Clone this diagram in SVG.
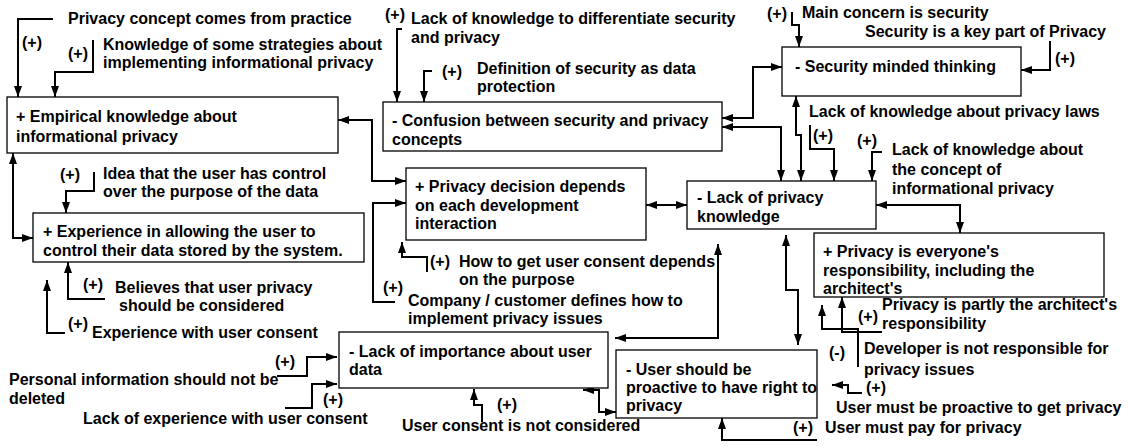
<svg xmlns="http://www.w3.org/2000/svg" width="1129" height="446" viewBox="0 0 1129 446">
<style>
.box{fill:#fff;stroke:#000;stroke-width:1.3}
text{font-family:"Liberation Sans",Arial,sans-serif;font-weight:bold;font-size:16px;fill:#000}
.c{fill:none;stroke:#000;stroke-width:2;marker-end:url(#ah)}
.b{marker-start:url(#ah)}
</style>
<defs>
<marker id="ah" viewBox="0 0 11 8" refX="11" refY="4" markerWidth="11" markerHeight="8" markerUnits="userSpaceOnUse" orient="auto-start-reverse"><path d="M0,0L11,4L0,8z" fill="#000"/></marker>
</defs>
<rect width="1129" height="446" fill="#fff"/>
<g id="connectors">
<path class="c" d="M53,19H18V97"/>
<path class="c" d="M93,40V72H55V97"/>
<path class="c" d="M402,29H397V102"/>
<path class="c" d="M432,71H424V102"/>
<path class="c" d="M792,12V25H799V47"/>
<path class="c" d="M1050,41V70H1021"/>
<path class="c b" d="M722,118H753V67H782"/>
<path class="c b" d="M722,127H781V181"/>
<path class="c b" d="M796,96V135H801V181"/>
<path class="c" d="M810,125V149H834V181"/>
<path class="c" d="M882,152H872V181"/>
<path class="c b" d="M876,205H960V233"/>
<path class="c b" d="M646,205H687"/>
<path class="c b" d="M338,120H372V181H406"/>
<path class="c" d="M395,302H373V203H406"/>
<path class="c" d="M427,272V257H402V242"/>
<path class="c" d="M94,172V191H66V213"/>
<path class="c b" d="M13,153V238H33"/>
<path class="c" d="M105,299H68V262"/>
<path class="c" d="M65,333H47V280"/>
<path class="c b" d="M718,244V338H615"/>
<path class="c b" d="M786,235V290H798V345"/>
<path class="c" d="M277,376H307V357H337"/>
<path class="c" d="M285,408H312V384H337"/>
<path class="c b" d="M583,390H599V412H616"/>
<path class="c" d="M482,422V405H474V389"/>
<path class="c" d="M882,332H842V297"/>
<path class="c" d="M858,367V329H822V305"/>
<path class="c" d="M862,393H848V385H832"/>
<path class="c" d="M817,440H722V418"/>
</g>
<g id="n-empirical"><rect class="box" x="7" y="97" width="331" height="56"/><text x="16" y="122">+ Empirical knowledge about</text><text x="16" y="142">informational privacy</text></g>
<g id="n-confusion"><rect class="box" x="383" y="102" width="339" height="49"/><text x="392" y="126">- Confusion between security and privacy</text><text x="392" y="145">concepts</text></g>
<g id="n-security"><rect class="box" x="782" y="47" width="239" height="49"/><text x="795" y="72">- Security minded thinking</text></g>
<g id="n-experience"><rect class="box" x="33" y="213" width="331" height="49"/><text x="43" y="237">+ Experience in allowing the user to</text><text x="43" y="256">control their data stored by the system.</text></g>
<g id="n-decision"><rect class="box" x="406" y="168" width="240" height="72"/><text x="415" y="192">+ Privacy decision depends</text><text x="415" y="211">on each development</text><text x="415" y="229">interaction</text></g>
<g id="n-lack"><rect class="box" x="687" y="181" width="189" height="48"/><text x="697" y="203">- Lack of privacy</text><text x="697" y="222">knowledge</text></g>
<g id="n-everyone"><rect class="box" x="814" y="233" width="290" height="64"/><text x="823" y="257">+ Privacy is everyone's</text><text x="823" y="276">responsibility, including the</text><text x="823" y="294">architect's</text></g>
<g id="n-importance"><rect class="box" x="339" y="332" width="269" height="56"/><text x="349" y="357">- Lack of importance about user</text><text x="349" y="375">data</text></g>
<g id="n-proactive"><rect class="box" x="616" y="350" width="201" height="68"/><text x="626" y="375">- User should be</text><text x="626" y="393">proactive to have right to</text><text x="626" y="411">privacy</text></g>
<g id="labels">
<g id="f1"><text x="22" y="48">(+)</text><text x="68" y="24">Privacy concept comes from practice</text></g>
<g id="f2"><text x="68" y="59">(+)</text><text x="103" y="50">Knowledge of some strategies about</text><text x="103" y="68">implementing informational privacy</text></g>
<g id="f3"><text x="385" y="20">(+)</text><text x="411" y="24">Lack of knowledge to differentiate security</text><text x="411" y="43">and privacy</text></g>
<g id="f4"><text x="442" y="77">(+)</text><text x="477" y="74">Definition of security as data</text><text x="477" y="92">protection</text></g>
<g id="f5"><text x="767" y="19">(+)</text><text x="802" y="18">Main concern is security</text></g>
<g id="f6"><text x="1055" y="64">(+)</text><text x="865" y="37">Security is a key part of Privacy</text></g>
<g id="f7"><text x="813" y="141">(+)</text><text x="809" y="117">Lack of knowledge about privacy laws</text></g>
<g id="f8"><text x="857" y="146">(+)</text><text x="892" y="155">Lack of knowledge about</text><text x="892" y="175">the concept of</text><text x="892" y="194">informational privacy</text></g>
<g id="f9"><text x="60" y="180">(+)</text><text x="103" y="179">Idea that the user has control</text><text x="103" y="197">over the purpose of the data</text></g>
<g id="f10"><text x="83" y="290">(+)</text><text x="115" y="293">Believes that user privacy</text><text x="119" y="311">should be considered</text></g>
<g id="f11"><text x="68" y="329">(+)</text><text x="92" y="338">Experience with user consent</text></g>
<g id="f12"><text x="430" y="267">(+)</text><text x="459" y="267">How to get user consent depends</text><text x="459" y="285">on the purpose</text></g>
<g id="f13"><text x="383" y="293">(+)</text><text x="408" y="306">Company / customer defines how to</text><text x="408" y="324">implement privacy issues</text></g>
<g id="f14"><text x="275" y="367">(+)</text><text x="9" y="385">Personal information should not be</text><text x="9" y="404">deleted</text></g>
<g id="f15"><text x="323" y="405">(+)</text><text x="83" y="424">Lack of experience with user consent</text></g>
<g id="f16"><text x="497" y="410">(+)</text><text x="402" y="431">User consent is not considered</text></g>
<g id="f17"><text x="858" y="322">(+)</text><text x="882" y="310">Privacy is partly the architect's</text><text x="882" y="329">responsibility</text></g>
<g id="f18"><text x="829" y="358">(-)</text><text x="864" y="354">Developer is not responsible for</text><text x="864" y="375">privacy issues</text></g>
<g id="f19"><text x="866" y="393">(+)</text><text x="836" y="413">User must be proactive to get privacy</text></g>
<g id="f20"><text x="793" y="433">(+)</text><text x="825" y="433">User must pay for privacy</text></g>
</g>
</svg>
